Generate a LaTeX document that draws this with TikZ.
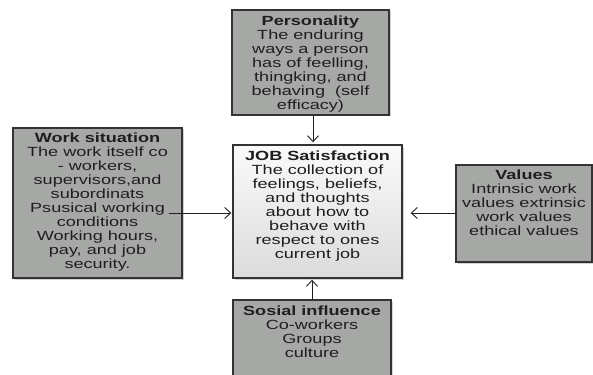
\documentclass[tikz,border=0pt]{standalone}
\usepackage{fontspec}
\setmainfont{Liberation Sans}[FakeStretch=1.36]
\usetikzlibrary{shadows,arrows.meta}
\definecolor{boxgray}{HTML}{A6A8A6}
\definecolor{txt}{HTML}{1E1E1E}
\definecolor{edge}{HTML}{333333}
\tikzset{
  gbox/.style={draw=edge, line width=1.4pt, fill=boxgray, inner sep=0pt,
    drop shadow={shadow xshift=1.5pt, shadow yshift=-1.5pt, opacity=0.35}},
  jbox/.style={draw=edge, line width=1.4pt, top color=white!96!gray, bottom color=gray!28, inner sep=0pt,
    drop shadow={shadow xshift=1.5pt, shadow yshift=-1.5pt, opacity=0.35}},
  btxt/.style={anchor=north, align=center, inner sep=0pt, text=txt,
    font=\fontsize{13.3pt}{14pt}\selectfont},
  conn/.style={draw=txt, line width=0.9pt, -{Straight Barb[length=6pt,width=11pt]}}
}
\begin{document}
\begin{tikzpicture}[x=1pt,y=-1pt]
\useasboundingbox (0,0) rectangle (593,374);
% boxes
\node[gbox, minimum width=157pt, minimum height=105pt] (pers) at (310.5,62.5) {};
\node[gbox, minimum width=169pt, minimum height=150pt] (work) at (97.5,203) {};
\node[jbox, minimum width=169pt, minimum height=133pt] (job) at (317.5,211.5) {};
\node[gbox, minimum width=136pt, minimum height=97pt] (val) at (524,213.5) {};
\node[gbox, minimum width=158pt, minimum height=78pt] (soc) at (312,339) {};
% texts
\node[btxt] (perst) at ([yshift=-6pt]pers.north) {\textbf{Personality}\\The enduring\\ways a person\\has of feelling,\\thingking, and\\behaving\ \ (self\\efficacy)};
\node[btxt] (workt) at ([yshift=-5pt]work.north) {\textbf{Work situation}\\The work itself co\\- workers,\\supervisors,and\\subordinats\\Psusical working\\conditions\\Working hours,\\pay, and job\\security.};
\node[btxt] (jobt) at ([yshift=-6pt]job.north) {\textbf{JOB Satisfaction}\\The collection of\\feelings, beliefs,\\and thoughts\\about how to\\behave with\\respect to ones\\current job};
\node[btxt] (valt) at ([yshift=-5pt]val.north) {\textbf{Values}\\Intrinsic work\\values extrinsic\\work values\\ethical values};
\node[btxt] (soct) at ([yshift=-6pt]soc.north) {\textbf{Sosial influence}\\Co-workers\\Groups\\culture};
% connectors
\draw[conn] ([xshift=2.5pt]pers.south) -- ([xshift=-4.5pt,yshift=2pt]job.north);
\draw[conn] ([xshift=-14pt,yshift=-10pt]work.east) -- ([xshift=-1pt,yshift=-1.5pt]job.west);
\draw[conn] ([yshift=0.5pt]val.west) -- ([xshift=8pt,yshift=-1.5pt]job.east);
\draw[conn] (soc.north) -- ([xshift=-5.5pt,yshift=-1pt]job.south);
\end{tikzpicture}
\end{document}
